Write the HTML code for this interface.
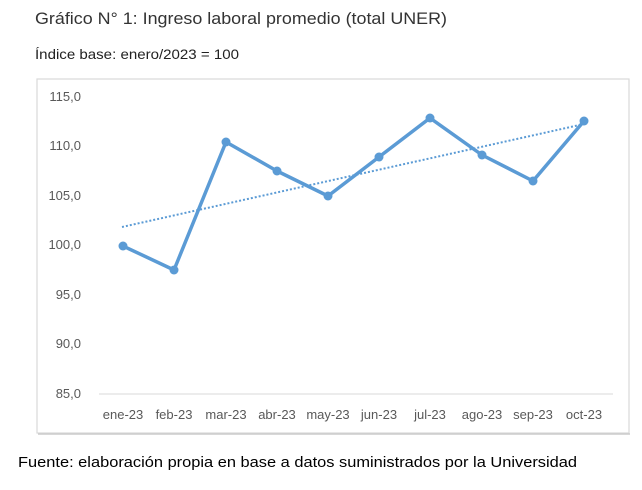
<!DOCTYPE html>
<html><head><meta charset="utf-8"><style>
body{margin:0;background:#fff;width:642px;height:485px;overflow:hidden;font-family:"Liberation Sans",sans-serif}
</style></head><body>
<svg width="642" height="485" xmlns="http://www.w3.org/2000/svg" font-family="Liberation Sans, sans-serif">
<text x="35" y="24" font-size="17" fill="#333" textLength="412" lengthAdjust="spacingAndGlyphs">Gráfico N° 1: Ingreso laboral promedio (total UNER)</text>
<text x="35" y="59" font-size="14" fill="#222" textLength="204" lengthAdjust="spacingAndGlyphs">Índice base: enero/2023 = 100</text>
<rect x="37" y="79" width="592" height="354" fill="#fff" stroke="#d9d9d9" stroke-width="1.2"/>
<line x1="38" y1="434" x2="630" y2="434" stroke="#ccc" stroke-width="1.5"/>
<line x1="99" y1="394" x2="613" y2="394" stroke="#d9d9d9" stroke-width="1"/>
<g font-size="13" fill="#595959" text-anchor="end">
<text x="81" y="101">115,0</text><text x="81" y="150">110,0</text><text x="81" y="200">105,0</text>
<text x="81" y="249">100,0</text><text x="81" y="299">95,0</text><text x="81" y="348">90,0</text><text x="81" y="398">85,0</text>
</g>
<g font-size="13" fill="#595959" text-anchor="middle">
<text x="123" y="419">ene-23</text><text x="174" y="419">feb-23</text><text x="226" y="419">mar-23</text>
<text x="277" y="419">abr-23</text><text x="328" y="419">may-23</text><text x="379" y="419">jun-23</text>
<text x="430" y="419">jul-23</text><text x="482" y="419">ago-23</text><text x="533" y="419">sep-23</text><text x="584" y="419">oct-23</text>
</g>
<line x1="122" y1="227" x2="584" y2="124" stroke="#5b9bd5" stroke-width="2" stroke-dasharray="2 2"/>
<polyline fill="none" stroke="#5b9bd5" stroke-width="3.5" stroke-linejoin="round" points="123,246 174,270 226,142 277,171 328,196 379,157 430,118 482,155 533,181 584,121"/>
<g fill="#5b9bd5">
<circle cx="123" cy="246" r="4.5"/><circle cx="174" cy="270" r="4.5"/><circle cx="226" cy="142" r="4.5"/>
<circle cx="277" cy="171" r="4.5"/><circle cx="328" cy="196" r="4.5"/><circle cx="379" cy="157" r="4.5"/>
<circle cx="430" cy="118" r="4.5"/><circle cx="482" cy="155" r="4.5"/><circle cx="533" cy="181" r="4.5"/><circle cx="584" cy="121" r="4.5"/>
</g>
<text x="18" y="467" font-size="15" fill="#000" textLength="559" lengthAdjust="spacingAndGlyphs">Fuente: elaboración propia en base a datos suministrados por la Universidad</text>
</svg>
</body></html>
